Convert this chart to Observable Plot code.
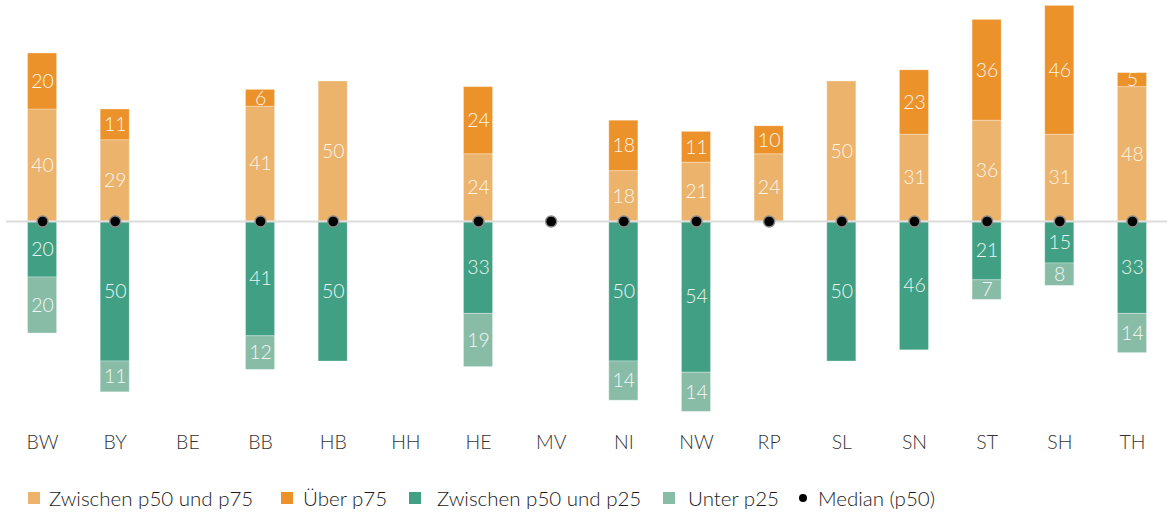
<!DOCTYPE html>
<html>
<head>
<meta charset="utf-8">
<script src="https://cdn.jsdelivr.net/npm/d3@7"></script>
<script src="https://cdn.jsdelivr.net/npm/@observablehq/plot@0.6"></script>
<style>
  body { margin: 0; background: #fff; font-family: "Lato", "Noto Sans", sans-serif; }
  #chart svg { display: block; }
  .legend { position: relative; width: 1167px; height: 46px; font-size: 20.5px; color: #1a1a1a; font-weight: 300; }
  .legend .sw { position: absolute; top: 24px; width: 12px; height: 12px; }
  .legend .dot { position: absolute; top: 26px; width: 8px; height: 8px; border-radius: 50%; background: #000; }
  .legend .txt { position: absolute; top: 30px; transform: translateY(-50%); white-space: nowrap; line-height: 1; }
</style>
</head>
<body>
<div id="chart"></div>
<div class="legend" id="legend"></div>
<script>
// Bundesländer
const states = ["BW","BY","BE","BB","HB","HH","HE","MV","NI","NW","RP","SL","SN","ST","SH","TH"];

// Anteile oberhalb des Medians
const p50to75 = [40, 29, 0, 41, 50, 0, 24, 0, 18, 21, 24, 50, 31, 36, 31, 48];
const above75 = [20, 11, 0, 6, 0, 0, 24, 0, 18, 11, 10, 0, 23, 36, 46, 5];
// Anteile unterhalb des Medians
const p25to50 = [20, 50, 0, 41, 50, 0, 33, 0, 50, 54, 0, 50, 46, 21, 15, 33];
const below25 = [20, 11, 0, 12, 0, 0, 19, 0, 14, 14, 0, 0, 0, 7, 8, 14];
// Median vorhanden (1) oder nicht (0)
const hasMedian = [1, 1, 0, 1, 1, 0, 1, 1, 1, 1, 1, 1, 1, 1, 1, 1];

const seriesNames = ["Zwischen p50 und p75", "Über p75", "Zwischen p50 und p25", "Unter p25"];
const seriesColors = ["#ebb36b", "#eb922b", "#41a084", "#88bca7"];
const labelColors = ["#fff6e8", "#fff6ea", "#eaf5f0", "#f2f8f5"];

// Long table: upper parts positive, lower parts negative
const rows = [];
const sources = [p50to75, above75, p25to50, below25];
sources.forEach((arr, si) => {
  arr.forEach((v, i) => {
    if (v > 0) rows.push({state: states[i], series: seriesNames[si], value: si < 2 ? v : -v, label: v, idx: si});
  });
});
const medians = states.filter((s, i) => hasMedian[i]).map(s => ({state: s, y: 0}));

const pxPerUnit = 2.8, zeroY = 221;

const chart = Plot.plot({
  width: 1167,
  height: 468,
  marginLeft: 6,
  marginRight: 0,
  marginTop: 0,
  marginBottom: 42,
  style: {fontFamily: "Lato, 'Noto Sans', sans-serif", fontWeight: 300},
  x: {domain: states, range: [13, 1161], paddingInner: 0.6, paddingOuter: 0.2, round: false},
  y: {domain: [-79, 79], range: [zeroY + 79 * pxPerUnit, zeroY - 79 * pxPerUnit], axis: null},
  color: {domain: seriesNames, range: seriesColors},
  marks: [
    Plot.barY(rows, Plot.stackY({x: "state", y: "value", fill: "series", stroke: "#fff", strokeOpacity: 0.3, strokeWidth: 1, order: seriesNames})),
    Plot.text(rows, Plot.stackY({x: "state", y: "value", z: "series", text: "label", order: seriesNames,
      fill: d => labelColors[d.idx], fontSize: 19.5, fontWeight: 300})),
    Plot.ruleY([0], {stroke: "#dcdcdc", strokeWidth: 2}),
    Plot.dot(medians, {x: "state", y: "y", r: 5.5, fill: "#000", stroke: "#8a8a8a", strokeWidth: 1.4}),
    Plot.axisX({tickSize: 0, tickPadding: 9, fontSize: 19.5, color: "#333", label: null})
  ]
});
document.getElementById("chart").appendChild(chart);

// Legend
const legend = document.getElementById("legend");
const swatchLeft = [28, 281, 409, 663];
const textLeft = [49, 303, 437, 688];
seriesNames.forEach((name, i) => {
  legend.insertAdjacentHTML("beforeend",
    `<span class="sw" style="left:${swatchLeft[i]}px;background:${seriesColors[i]}"></span>` +
    `<span class="txt" style="left:${textLeft[i]}px">${name}</span>`);
});
legend.insertAdjacentHTML("beforeend",
  `<span class="dot" style="left:799px"></span><span class="txt" style="left:818px">Median (p50)</span>`);
</script>
</body>
</html>
